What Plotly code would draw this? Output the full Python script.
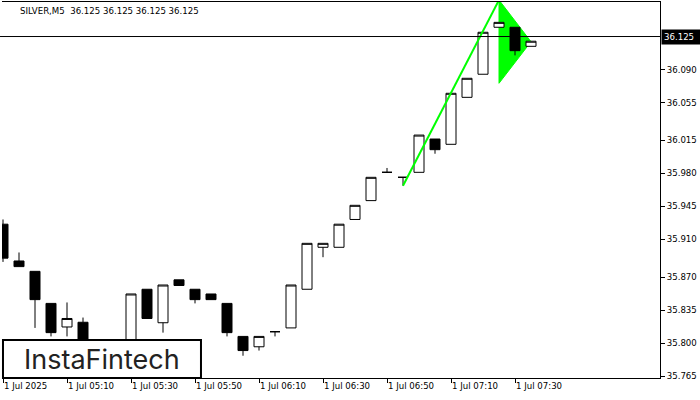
import plotly.graph_objects as go

# ---- data -------------------------------------------------------------
day = "2025-07-01"
times = ["04:50", "04:55", "05:00", "05:05", "05:10", "05:15", "05:20", "05:25",
         "05:30", "05:35", "05:40", "05:45", "05:50", "05:55", "06:00", "06:05",
         "06:10", "06:15", "06:20", "06:25", "06:30", "06:35", "06:40", "06:45",
         "06:50", "06:55", "07:00", "07:05", "07:10", "07:15", "07:20", "07:25",
         "07:30", "07:35"]
opens = [35.926, 35.887, 35.876, 35.842, 35.817, 35.822, 35.795, 35.789,
         35.797, 35.857, 35.8215, 35.867, 35.857, 35.852, 35.842, 35.807,
         35.796, 35.812, 35.816, 35.857, 35.9015, 35.9015, 35.931, 35.951,
         35.981, 35.9757, 35.981, 36.0163, 36.0107, 36.0605, 36.085, 36.1348,
         36.1348, 36.1146]
highs = [35.931, 35.896, 35.876, 35.842, 35.843, 35.827, 35.800, 35.801,
         35.852, 35.857, 35.8615, 35.867, 35.857, 35.852, 35.842, 35.807,
         35.807, 35.812, 35.8615, 35.9057, 35.9057, 35.926, 35.946, 35.9757,
         35.9856, 35.9757, 36.0205, 36.0163, 36.0648, 36.0807, 36.1295, 36.140,
         36.1348, 36.120]
lows = [35.886, 35.881, 35.816, 35.807, 35.807, 35.788, 35.784, 35.786,
        35.794, 35.826, 35.811, 35.861, 35.842, 35.846, 35.807, 35.7865,
        35.792, 35.807, 35.816, 35.857, 35.891, 35.9015, 35.931, 35.951,
        35.981, 35.9668, 35.981, 36.0007, 36.0107, 36.0605, 36.085, 36.1348,
        36.105, 36.1146]
closes = [35.890, 35.881, 35.846, 35.811, 35.826, 35.795, 35.789, 35.797,
          35.852, 35.826, 35.8615, 35.861, 35.846, 35.846, 35.811, 35.792,
          35.807, 35.812, 35.8615, 35.9057, 35.9057, 35.926, 35.946, 35.9757,
          35.981, 35.9757, 36.0205, 36.005, 36.0648, 36.0807, 36.1295, 36.140,
          36.110, 36.120]

# pattern (bullish pennant) geometry in data space
pole_times = ["06:55", "07:25"]
pole_prices = [35.9668, 36.1637]
pennant_times = ["07:25", "07:25", "07:35"]
pennant_prices = [36.1637, 36.0754, 36.1195]

current_price = 36.125
title_text = "SILVER,M5  36.125 36.125 36.125 36.125"

y_tick_vals = [35.765, 35.800, 35.835, 35.870, 35.910, 35.945, 35.980, 36.015, 36.055, 36.090]
y_tick_text = ["35.765", "35.800", "35.835", "35.870", "35.910", "35.945", "35.980", "36.015", "36.055", "36.090"]
x_tick_times = ["04:50", "05:10", "05:30", "05:50", "06:10", "06:30", "06:50", "07:10", "07:30"]
x_tick_text = ["1 Jul 2025", "1 Jul 05:10", "1 Jul 05:30", "1 Jul 05:50", "1 Jul 06:10",
               "1 Jul 06:30", "1 Jul 06:50", "1 Jul 07:10", "1 Jul 07:30"]

# ---- figure -----------------------------------------------------------
def ts(t):
    return f"{day} {t}:00"

x = [ts(t) for t in times]
FONT = "DejaVu Sans"
FS = 8.6
GREEN = "#00ff00"

fig = go.Figure()
fig.add_trace(go.Candlestick(
    x=x, open=opens, high=highs, low=lows, close=closes,
    increasing=dict(line=dict(color="black", width=1), fillcolor="white"),
    decreasing=dict(line=dict(color="black", width=1), fillcolor="black"),
    whiskerwidth=0, showlegend=False, hoverinfo="skip",
))
fig.add_trace(go.Scatter(
    x=[ts(t) for t in pole_times], y=pole_prices, mode="lines",
    line=dict(color=GREEN, width=2), showlegend=False, hoverinfo="skip",
))

pts = [f"{day}_{t}:00,{p}" for t, p in zip(pennant_times, pennant_prices)]
path = "M " + " L ".join(pts) + " Z"

fig.update_layout(
    width=700, height=400,
    margin=dict(l=2, r=40, t=2, b=22),
    paper_bgcolor="white", plot_bgcolor="white",
    boxgap=0.375, boxgroupgap=0,
    font=dict(family=FONT, size=FS, color="black"),
    xaxis=dict(
        type="date",
        range=[f"{day} 04:49:41.25", f"{day} 08:15:18.75"],
        rangeslider=dict(visible=False),
        showgrid=False, zeroline=False,
        showline=True, mirror=True, linecolor="black", linewidth=1,
        ticks="outside", ticklen=4, tickcolor="black", tickwidth=1,
        tickvals=[ts(t) for t in x_tick_times], ticktext=x_tick_text,
        ticklabelposition="outside right",
        tickfont=dict(family=FONT, size=FS, color="black"),
    ),
    yaxis=dict(
        side="right",
        range=[35.7629, 36.1616],
        showgrid=False, zeroline=False,
        showline=True, linecolor="black", linewidth=1,
        ticks="outside", ticklen=4, tickcolor="black", tickwidth=1,
        tickvals=y_tick_vals, ticktext=y_tick_text,
        tickfont=dict(family=FONT, size=FS, color="black"),
    ),
    shapes=[
        dict(type="path", xref="x", yref="y", path=path, fillcolor=GREEN,
             line=dict(color=GREEN, width=1), layer="below"),
        dict(type="line", xref="paper", yref="y", x0=-0.003, x1=1.0,
             y0=current_price, y1=current_price,
             line=dict(color="black", width=1), layer="above"),
        dict(type="rect", xref="paper", yref="paper",
             x0=0.0015, x1=0.3024, y0=0.0, y1=0.101,
             fillcolor="white", line=dict(color="black", width=2), layer="above"),
    ],
    annotations=[
        dict(text=title_text, xref="paper", yref="paper", x=0.0243, y=0.976,
             xanchor="left", yanchor="middle", showarrow=False,
             font=dict(family=FONT, size=FS, color="black")),
        dict(text=f"{current_price:.3f}", xref="paper", yref="y", x=1.0, y=current_price,
             xanchor="left", yanchor="middle", xshift=1, showarrow=False,
             bgcolor="black", borderpad=2, width=35, align="left",
             font=dict(family=FONT, size=FS, color="white")),
        dict(text="InstaFintech", xref="paper", yref="paper", x=0.152, y=0.0505,
             xanchor="center", yanchor="middle", showarrow=False,
             font=dict(family="Inter", size=27, color="#222222")),
    ],
)

fig.write_html("out.html", config={"displayModeBar": False},
               post_script="document.body.style.margin='0';")
